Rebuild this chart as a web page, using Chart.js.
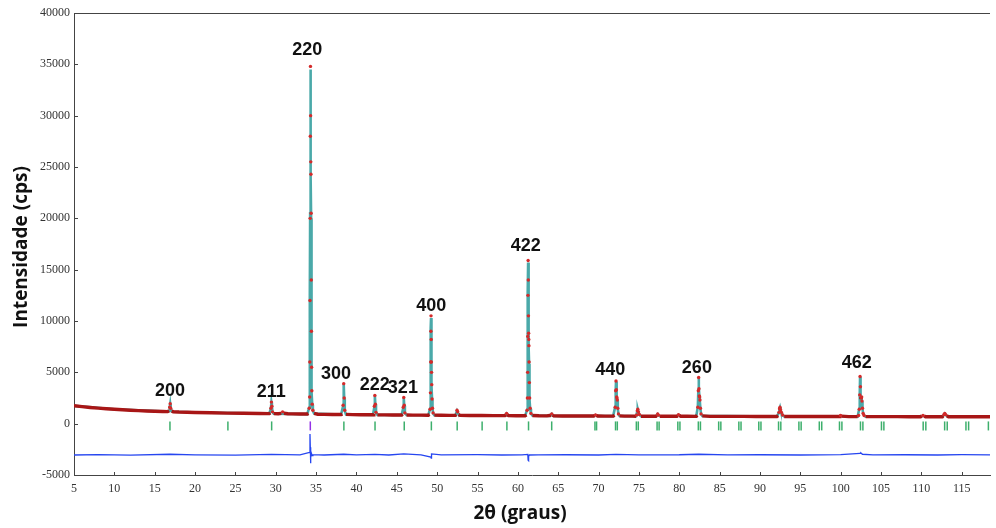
<!DOCTYPE html>
<html><head><meta charset="utf-8">
<script src="https://cdn.jsdelivr.net/npm/chart.js@4.4.1/dist/chart.umd.min.js"></script>
<style>html,body{margin:0;padding:0;background:#fff;overflow:hidden}</style>
</head><body>
<canvas id="c" width="996" height="528"></canvas>
<script>
// ---------- DATA ----------
const twoTheta = [
 5,6,7,8,9,10,11,12,13,14,15,16,
 16.6,16.78,16.86,16.92,16.98,17.1,17.3,
 18,20,22,24,26,28,29.2,
 29.32,29.4,29.46,29.52,29.6,29.75,
 30.3,30.7,30.85,31.0,31.5,32,33,33.9,
 34.05,34.14,34.2,34.22,34.24,34.26,34.28,34.30,34.32,34.34,34.36,34.38,34.40,34.42,34.44,34.47,34.52,34.6,34.75,
 35.2,36,37,38.1,
 38.25,38.35,38.42,38.48,38.55,38.7,
 39.5,40.5,41.5,42.05,
 42.15,42.22,42.28,42.34,42.42,42.6,
 43.5,44.5,45.6,
 45.72,45.8,45.86,45.92,46.0,46.2,
 47,48,48.9,
 49.05,49.12,49.17,49.2,49.22,49.24,49.26,49.28,49.30,49.33,49.37,49.42,49.5,49.65,
 50.5,51.5,52.25,
 52.38,52.46,52.54,52.65,52.85,
 54,55.5,57,58.4,
 58.52,58.6,58.7,58.85,
 59.8,60.9,
 61.06,61.14,61.18,61.21,61.23,61.25,61.27,61.29,61.31,61.33,61.35,61.37,61.39,61.42,61.46,61.52,61.62,61.8,
 62.6,63.6,
 64.1,64.2,64.3,64.45,
 65.5,67,68.5,69.4,
 69.52,69.62,69.72,69.9,
 70.8,71.8,
 71.98,72.06,72.12,72.16,72.2,72.24,72.28,72.32,72.38,72.46,72.6,
 73.2,74.2,74.65,
 74.72,74.8,74.86,74.94,75.05,75.25,
 76,77.1,
 77.22,77.32,77.42,77.6,
 78.5,79.7,
 79.8,79.9,80.0,80.2,
 81,82.1,
 82.22,82.3,82.36,82.4,82.44,82.48,82.52,82.56,82.62,82.7,82.85,
 83.8,85,86.5,88,89.5,91,92.1,
 92.25,92.35,92.42,92.48,92.55,92.65,92.8,93.0,
 94,96,98,99.8,
 99.88,99.98,100.1,
 101,102.1,
 102.22,102.3,102.36,102.4,102.44,102.48,102.52,102.56,102.6,102.64,102.7,102.78,102.9,103.1,
 104,105.5,107,108.5,109.9,
 110.05,110.2,110.35,110.5,
 111.5,112.6,
 112.7,112.8,112.9,113.0,113.15,113.35,
 114.5,116,117.5,118.5
];
const observed = [
 1750,1660,1580,1510,1450,1400,1350,1310,1270,1240,1210,1180,
 1170,1250,1600,1950,1500,1220,1165,
 1130,1090,1060,1030,1010,990,980,
 1050,1500,2100,1700,1150,978,
 972,1000,1150,1010,962,955,945,935,
 1000,1500,2600,6000,12000,20000,28000,34800,30000,25500,24300,20500,14000,9000,5500,3200,1900,1300,1000,
 915,905,895,890,
 950,1800,3900,2500,1300,905,
 880,870,865,862,
 950,1700,2750,1900,1100,860,
 853,848,842,
 930,1600,2550,1800,1050,840,
 835,830,826,
 900,1400,3000,6000,9000,10500,8200,6000,5000,3800,2400,1500,1050,830,
 818,812,808,
 880,1300,1150,900,806,
 800,792,785,780,
 860,1000,880,778,
 772,768,
 850,1300,2500,5000,8500,12500,15900,14000,10500,8800,8200,7600,6000,4000,2500,1500,1000,790,
 765,762,
 820,950,840,758,
 752,748,744,742,
 790,860,800,740,
 738,736,
 820,1600,3200,4150,3300,2600,2500,2300,1500,950,760,
 732,730,728,
 850,1250,1400,1150,900,728,
 726,724,
 800,950,830,722,
 721,720,
 780,880,800,718,
 716,715,
 820,1600,3200,4500,3400,2700,2600,2300,1500,950,760,
 712,711,709,707,705,703,702,
 780,1100,1450,1600,1350,1100,850,701,
 699,696,694,692,
 740,800,730,
 690,689,
 800,1400,2800,4600,3600,2600,2400,2500,2600,2200,1500,1000,800,688,
 686,684,683,681,680,
 730,800,740,680,
 678,677,
 760,900,1000,880,760,676,
 674,672,671,670
];
const calcTheta = [
 5,10,16.5,
 16.78,16.86,16.92,16.98,17.1,17.3,
 22,29.2,
 29.4,29.46,29.52,29.6,29.75,
 33.9,
 34.14,34.2,34.22,34.24,34.26,34.28,34.30,34.32,34.34,34.36,34.38,34.40,34.42,34.44,34.47,34.52,34.6,34.75,
 38.1,
 38.35,38.42,38.48,38.55,38.7,
 42.05,
 42.22,42.28,42.34,42.42,42.6,
 45.6,
 45.8,45.86,45.92,46.0,46.2,
 48.9,
 49.12,49.17,49.2,49.22,49.24,49.26,49.28,49.30,49.33,49.37,49.42,49.5,49.65,
 52.25,
 52.46,52.54,52.65,52.85,
 58.4,
 58.6,58.7,58.85,
 60.9,
 61.14,61.18,61.21,61.23,61.25,61.27,61.29,61.31,61.33,61.35,61.37,61.39,61.42,61.46,61.52,61.62,61.8,
 64.0,
 64.2,64.3,64.45,
 69.4,
 69.62,69.72,69.9,
 71.8,
 72.06,72.12,72.16,72.2,72.24,72.28,72.32,72.38,72.46,72.6,
 74.65,
 74.8,74.86,74.94,75.05,75.25,
 77.1,
 77.32,77.42,77.6,
 79.7,79.9,80.0,80.2,
 82.1,
 82.3,82.36,82.4,82.44,82.48,82.52,82.56,82.62,82.7,82.85,
 92.1,
 92.35,92.42,92.48,92.55,92.65,92.8,93.0,
 99.8,99.98,100.1,
 102.1,
 102.3,102.36,102.4,102.44,102.48,102.52,102.56,102.6,102.64,102.7,102.78,102.9,103.1,
 110.0,110.2,110.35,110.5,
 112.6,112.8,112.9,113.0,113.15,113.35,
 118.5
];
const calculated = [
 1745,1398,1170,
 1240,1580,1900,1480,1210,1160,
 1060,980,
 1480,2050,1680,1140,975,
 935,
 1550,2700,6200,12500,20500,28500,34500,30500,25000,24000,20000,13500,8800,5300,3100,1850,1250,990,
 890,
 1750,3850,2450,1250,900,
 862,
 1650,2700,1850,1080,858,
 842,
 1550,2500,1750,1030,838,
 826,
 1450,3100,6200,9300,10300,8300,6100,4900,3700,2300,1450,1000,828,
 808,
 1250,1120,880,806,
 780,
 980,870,778,
 768,
 1350,2600,5200,8800,12800,15700,14200,10800,9000,8300,7500,5800,3900,2400,1450,980,788,
 760,
 930,830,758,
 742,
 850,795,740,
 736,
 1650,3250,4100,3350,2650,2500,2250,1450,930,758,
 728,
 1230,1380,1130,890,727,
 724,
 930,820,722,
 720,870,795,718,
 715,
 1650,3250,4450,3450,2750,2600,2250,1450,930,758,
 702,
 1080,1430,1580,1340,1080,840,701,
 692,790,728,
 689,
 1450,2850,4550,3650,2650,2450,2550,2550,2150,1450,980,790,688,
 680,790,735,680,
 677,880,980,870,750,676,
 670
];
const diffTheta = [
 5,8,12,16.9,20,25,29.46,33,
 34.2,34.24,34.28,34.30,34.32,34.36,34.42,34.5,34.6,
 36,38.42,40,42.28,44,45.86,48,
 49.22,49.26,49.3,50.5,55,58,60.5,
 61.23,61.27,61.31,61.35,61.42,62.5,
 66,70,72.16,75,80,82.4,86,90,95,100,
 102.4,102.5,102.7,104,108,112,115,118.5
];
const difference = [
 -3050,-3020,-3060,-2980,-3040,-3060,-2990,-3040,
 -2800,-1000,-2300,-3850,-2500,-3300,-2900,-3100,-3020,
 -3050,-2980,-3040,-3000,-3050,-2950,-3040,
 -3250,-3350,-2950,-3040,-3020,-3050,-3040,
 -3000,-3550,-3600,-3200,-3050,-3040,
 -3030,-3050,-3000,-3040,-3030,-2980,-3040,-3030,-3050,-3020,
 -2900,-2850,-2980,-3040,-3030,-3050,-3020,-3040
];
const braggPhase1 = [
 16.89,24.07,29.49,38.44,42.30,45.92,49.28,52.48,55.57,58.64,61.32,64.19,
 69.55,69.75,72.1,72.32,74.68,74.92,77.25,77.5,79.82,80.08,82.36,82.62,
 84.88,85.15,87.38,87.65,89.85,90.12,92.3,92.58,94.82,95.1,97.35,97.65,
 99.85,100.15,102.45,102.75,105.05,105.35,110.22,110.55,112.88,113.2,115.52,115.85,118.3
];
const braggPhase2 = [34.28];
const hklLabels = ['200','211','220','300','222','321','400','422','440','260','462'];
const hklTwoTheta = [16.89,29.45,33.89,37.46,42.26,45.75,49.28,60.99,71.46,82.18,102.0];
const hklLevel = [3190,3090,36390,4840,3770,3480,11460,17300,5230,5420,5910];
const xTickValues = [5,10,15,20,25,30,35,40,45,50,55,60,65,70,75,80,85,90,95,100,105,110,115];
const yTickValues = [-5000,0,5000,10000,15000,20000,25000,30000,35000,40000];
const braggLevel = -220;

// ---------- CHART ----------
const RED = '#a81616';
const pts = (xs, ys) => xs.map((x, i) => ({x, y: ys[i]}));
function isPeak(i) {
  const n = observed.length;
  if (i < 3 || i > n - 4) return false;
  let m = Infinity;
  for (let k = i - 3; k <= i + 3; k++) m = Math.min(m, observed[k]);
  return observed[i] > 1.15 * m;
}

const decor = {
  id: 'decor',
  afterDraw(chart) {
    const {ctx, chartArea: a, scales: {x, y}} = chart;
    ctx.save();
    ctx.strokeStyle = '#444'; ctx.lineWidth = 1;
    ctx.beginPath(); ctx.moveTo(a.left, a.top + 0.5); ctx.lineTo(a.right, a.top + 0.5); ctx.stroke();
    ctx.beginPath();
    xTickValues.forEach(v => { const px = Math.round(x.getPixelForValue(v)) + 0.5; ctx.moveTo(px, a.bottom); ctx.lineTo(px, a.bottom - 3); });
    yTickValues.forEach(v => { const py = Math.round(y.getPixelForValue(v)) + 0.5; ctx.moveTo(a.left, py); ctx.lineTo(a.left + 4, py); });
    ctx.stroke();
    ctx.fillStyle = '#111';
    ctx.font = 'bold 18px "Liberation Sans", Arial, sans-serif';
    ctx.textAlign = 'center'; ctx.textBaseline = 'middle';
    hklLabels.forEach((t, i) => ctx.fillText(t, x.getPixelForValue(hklTwoTheta[i]), y.getPixelForValue(hklLevel[i])));
    ctx.font = 'bold 19px "Open Sans", sans-serif';
    ctx.fillText('2θ (graus)', 520, 514);
    ctx.translate(22, 247); ctx.rotate(-Math.PI / 2);
    ctx.fillText('Intensidade (cps)', 0, 0);
    ctx.restore();
  }
};

new Chart(document.getElementById('c'), {
  type: 'scatter',
  data: {
    datasets: [
      {
        label: 'Observado', data: pts(twoTheta, observed), order: 1,
        showLine: true, borderColor: RED, borderWidth: 3.4, tension: 0,
        segment: { borderColor: c => (isPeak(c.p0DataIndex) || isPeak(c.p1DataIndex)) ? 'rgba(0,0,0,0)' : RED },
        pointRadius: c => isPeak(c.dataIndex) ? 1.7 : 0,
        pointBackgroundColor: '#d42a2a', pointBorderWidth: 0
      },
      {
        label: 'Calculado', data: pts(calcTheta, calculated), order: 2,
        showLine: true, borderColor: '#4aa9a9', borderWidth: 2.6, pointRadius: 0, tension: 0
      },
      {
        label: 'Diferença', data: pts(diffTheta, difference), order: 3,
        showLine: true, borderColor: '#2646f0', borderWidth: 1.3, pointRadius: 0, tension: 0
      },
      {
        label: 'Bragg 1', data: braggPhase1.map(v => ({x: v, y: braggLevel})), order: 4,
        showLine: false, pointStyle: 'line', rotation: 90, pointRadius: 4.5,
        pointBorderColor: '#3daf6c', pointBorderWidth: 1.5
      },
      {
        label: 'Bragg 2', data: braggPhase2.map(v => ({x: v, y: braggLevel})), order: 4,
        showLine: false, pointStyle: 'line', rotation: 90, pointRadius: 4.5,
        pointBorderColor: '#9432e6', pointBorderWidth: 1.5
      }
    ]
  },
  options: {
    responsive: false, animation: false,
    layout: { padding: { top: 13, left: 0, right: 0, bottom: 0 } },
    plugins: { legend: { display: false }, tooltip: { enabled: false } },
    scales: {
      x: {
        type: 'linear', min: 5, max: 118.5, position: 'bottom',
        grid: { display: false, drawTicks: false },
        border: { display: true, color: '#444', width: 1 },
        afterBuildTicks: s => { s.ticks = xTickValues.map(v => ({value: v})); },
        afterFit: s => { s.height = 53; },
        ticks: { callback: v => String(v), font: { family: '"Liberation Serif", serif', size: 12 }, color: '#333', padding: 7, maxRotation: 0, autoSkip: false }
      },
      y: {
        type: 'linear', min: -5000, max: 40000,
        grid: { display: false, drawTicks: false },
        border: { display: true, color: '#444', width: 1 },
        afterBuildTicks: s => { s.ticks = yTickValues.map(v => ({value: v})); },
        afterFit: s => { s.width = 74; },
        ticks: { callback: v => String(v), font: { family: '"Liberation Serif", serif', size: 12 }, color: '#333', padding: 4, autoSkip: false }
      }
    }
  },
  plugins: [decor]
});
</script>
</body></html>
